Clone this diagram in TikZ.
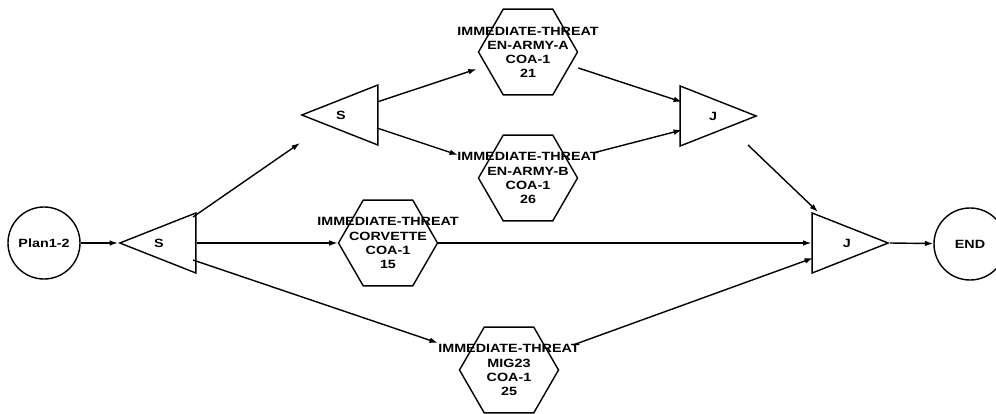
\documentclass[tikz,border=0pt]{standalone}
\usepackage{fontspec}
\newfontfamily\diafont[FakeStretch=1.2]{Liberation Sans}
\usetikzlibrary{shapes.geometric, arrows.meta, calc}

\begin{document}
\begin{tikzpicture}[x=0.025cm, y=-0.025cm,
    every node/.style={font=\diafont\bfseries\fontsize{8.5}{10}\selectfont},
    term/.style={draw, circle, line width=1pt, minimum size=1.8cm, inner sep=0pt},
    tri/.style={draw, isosceles triangle, isosceles triangle stretches,
        line width=1pt, minimum width=1.5cm, minimum height=1.9cm, inner sep=0pt},
    hexa/.style={draw, regular polygon, regular polygon sides=6,
        line width=1pt, minimum size=2.475cm, inner sep=0pt},
    flow/.style={line width=1pt, -{Latex[length=6pt, width=4pt]}}]
\useasboundingbox (0,0) rectangle (996,414);

\node[term] (plan) at (44,243) {Plan1-2};
\node[tri, shape border rotate=180, anchor=apex] (s1) at (118,243) {};
\node[tri, shape border rotate=180, anchor=apex] (s2) at (300,115) {};
\node[tri, anchor=apex] (j1) at (758,116) {};
\node[tri, anchor=apex] (j2) at (890,243) {};
\node[term] (end) at (970,244) {END};

\node (s1-t) at ($(s1.apex)!0.52!(s1.lower side)$) {S};
\node (s2-t) at ($(s2.apex)!0.52!(s2.lower side)$) {S};
\node (j1-t) at ($(j1.apex)!0.57!(j1.lower side)$) {J};
\node (j2-t) at ($(j2.apex)!0.55!(j2.lower side)$) {J};

\node[hexa, label={[align=center]center:IMMEDIATE-THREAT\\EN-ARMY-A\\COA-1\\21}] (ea) at (528,52) {};
\node[hexa, label={[align=center]center:IMMEDIATE-THREAT\\EN-ARMY-B\\COA-1\\26}] (eb) at (528,178) {};
\node[hexa, label={[align=center]center:IMMEDIATE-THREAT\\CORVETTE\\COA-1\\15}] (cor) at (388,243) {};
\node[hexa, label={[align=center]center:IMMEDIATE-THREAT\\MIG23\\COA-1\\25}] (mig) at (509,370) {};

\draw[flow] (plan) -- (s1.apex);
\draw[flow] ($(s1.apex)+(75,-26)$) -- ($(s2.apex)+(0,28)$);
\draw[flow] (s1.lower side) -- (cor);
\draw[flow] ($(s1.apex)+(75,17)$) -- ($(mig.center)+(-71,-27)$);
\draw[flow] ($(s2.apex)+(77,-13)$) -- ($(ea.west)+(-1,17)$);
\draw[flow] ($(s2.apex)+(77,13)$) -- ($(eb.center)+(-70,-23)$);
\draw[flow] ($(ea.east)+(0,16)$) -- ($(j1.apex)+(-76,-14)$);
\draw[flow] ($(eb.center)+(65,-25)$) -- ($(j1.apex)+(-76,14)$);
\draw[flow] ($(j1.apex)+(-10,29)$) -- ($(j2.apex)+(-72,-31)$);
\draw[flow] (cor) -- (j2.lower side);
\draw[flow] ($(mig.center)+(64,-25)$) -- ($(j2.apex)+(-77,15)$);
\draw[flow] (j2.apex) -- (end);
\end{tikzpicture}
\end{document}
